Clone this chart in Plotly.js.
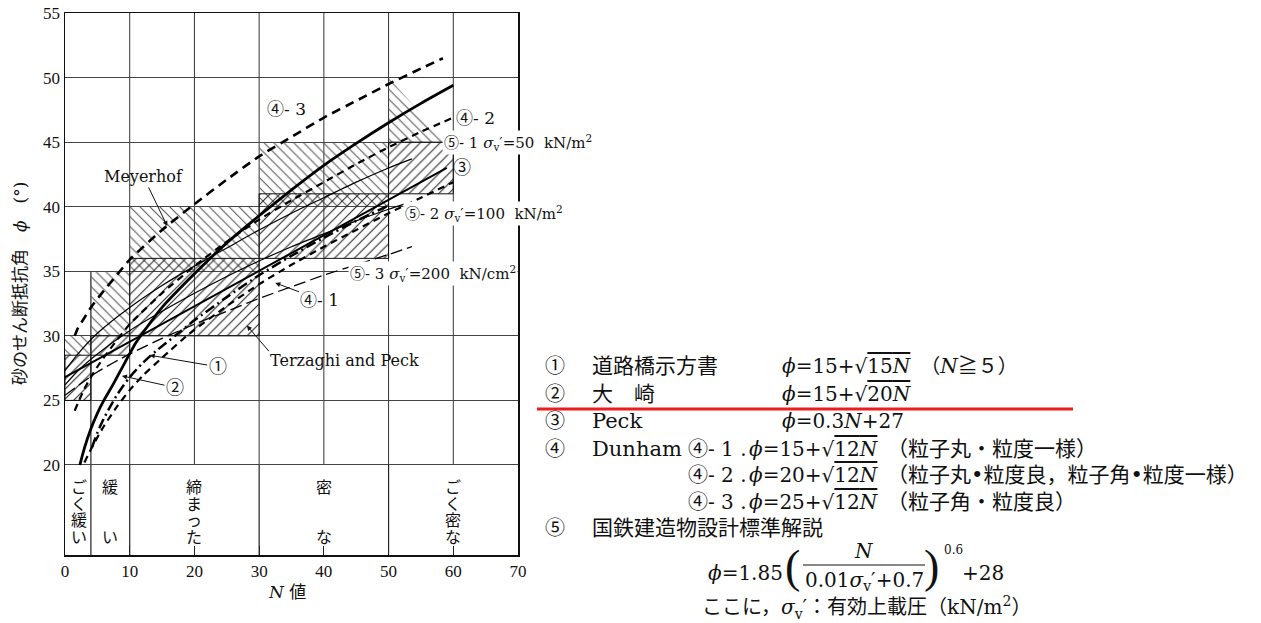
<!DOCTYPE html>
<html><head><meta charset="utf-8">
<script src="https://cdn.plot.ly/plotly-3.0.1.min.js"></script>
<style>html,body{margin:0;padding:0;background:#fff;}#chart{width:1261px;height:623px;}</style>
</head><body><div id="chart"></div>
<script>
// ---------------- data ----------------
const xTicks = [0,10,20,30,40,50,60,70];
const yTicks = [20,25,30,35,40,45,50,55];

// ④-3 Dunham  φ=25+√12N
const n43 = [1.5,2,3,4,6,8,10,15,20,25,30,35,40,45,50,55,58.4];
const p43 = [30.0,30.6,31.4,32.2,33.5,34.7,35.9,38.2,40.2,42.1,43.9,45.4,46.9,48.2,49.5,50.7,51.5];
// ④-2 Dunham  φ=20+√12N
const n42 = [1.5,2,3,4,5,7,10,15,20,25,30,35,40,45,50,55,60];
const p42 = [24.2,24.8,25.9,26.8,27.6,29.0,30.9,33.3,35.4,37.3,39.0,40.5,41.9,43.3,44.6,45.8,46.9];
// ② 大崎
const n2 = [2.3,3,4,5,6,7.5,9,11,13,15,20,25,30,35,40,45,50,55,60];
const p2 = [20.0,21.3,22.8,24.0,25.0,26.3,27.7,29.5,30.9,32.2,34.8,37.2,39.3,41.3,43.2,44.9,46.5,48.0,49.4];
// ① 道路橋示方書
const n1 = [4.2,5,6,8,10,12,14,17,20,25,30,35,40,45,50];
const p1 = [21.4,22.5,23.6,25.4,26.8,27.9,28.8,30.0,31.2,33.0,34.7,36.2,37.6,38.9,40.1];
// ④-1 Dunham  φ=15+√12N
const n41 = [3,4.3,6,8,10,12,15,19.3,25,30,35,40,45,50,55,60];
const p41 = [20.2,21.5,23.0,24.5,25.8,26.9,28.3,30.2,32.3,34.0,35.5,36.9,38.2,39.5,40.7,41.9];
// ③ Peck
const n3 = [0,59];
const p3 = [26.8,43.0];
// ⑤-1, ⑤-2, ⑤-3 国鉄
const n51 = [0,2,5,10,15,20,25,30,35,40,45,50,53.6];
const p51 = [27.3,28.6,30.2,32.2,33.9,35.4,36.8,38.2,39.5,40.7,41.9,43.0,43.7];
const n52 = [0,2,5,10,15,20,25,30,35,40,45,50,53];
const p52 = [26.2,27.3,28.6,30.4,31.9,33.3,34.6,35.8,36.9,37.9,38.9,39.8,40.3];
const n53 = [0,5,10,15,20,25,30,35,40,45,50,53.6];
const p53 = [25.4,27.2,28.6,29.8,30.9,31.9,32.9,33.8,34.7,35.5,36.3,36.9];

// Terzaghi and Peck ranges
const tpX0 = [0,4,10,30,50];
const tpX1 = [4,10,30,50,60];
const tpLo = [25,28.5,30,36,41];
const tpHi = [28.5,30,36,41,45];
// Meyerhof ranges
const myX0 = [0,4,10,30];
const myX1 = [4,10,30,50];
const myLo = [28.5,30,35,40];
const myHi = [30,35,40,45];
const myTriN = [50,50,59,50];
const myTriP = [45,50,45,45];

// density classes
const densBounds = [4,10,30,50];
const densCenters = [2.2,7,20,40,60];
const densLabels = ['ごく緩い','緩　　い','締まった','密　　な','ごく密な'];

// legend texts
const legNums = ['①','②','③','④','⑤'];
const legNames = ['道路橋示方書','大　崎','Peck','Dunham','国鉄建造物設計標準解説'];

// ---------------- geometry helpers (layout only) ----------------
const L=65, R=518, T=13, B=555, W=1261, H=623;
const YMIN = 13.03, YMAX = 55;
const px = p => (p - L)/(R - L);
const py = p => (B - p)/(B - T);

const serif = 'DejaVu Serif, Noto Sans CJK JP, serif';
const cjk = 'Noto Sans CJK JP, sans-serif';
const ov = s => '<span style="text-decoration:overline">' + s + '</span>';

const traces = [];
const boxTrace = (x0,x1,lo,hi,shape,fg,lw) => ({
  x:[x0,x1,x1,x0,x0], y:[lo,lo,hi,hi,lo], mode:'lines', fill:'toself',
  fillcolor:'rgba(0,0,0,0)',
  fillpattern:{shape:shape, fgcolor:fg, bgcolor:'rgba(0,0,0,0)', size:7, solidity:0.15},
  line:{color:'#111', width:lw}, hoverinfo:'skip', showlegend:false
});
for (let i=0;i<myX0.length;i++) traces.push(boxTrace(myX0[i],myX1[i],myLo[i],myHi[i],'\\','#555',0));
traces.push({x:myTriN, y:myTriP, mode:'lines', fill:'toself', fillcolor:'rgba(0,0,0,0)',
  fillpattern:{shape:'\\', fgcolor:'#555', bgcolor:'rgba(0,0,0,0)', size:7, solidity:0.15},
  line:{width:0,color:'rgba(0,0,0,0)'}, hoverinfo:'skip', showlegend:false});
for (let i=0;i<tpX0.length;i++) traces.push(boxTrace(tpX0[i],tpX1[i],tpLo[i],tpHi[i],'/','#222',1));

const curve = (x,y,w,dash) => ({x, y, mode:'lines', line:{color:'#000', width:w, dash, shape:'spline', smoothing:0.6}, hoverinfo:'skip', showlegend:false});
traces.push(curve(n53,p53,1.3,'12px,5px'));
traces.push(curve(n52,p52,1.2,'solid'));
traces.push(curve(n51,p51,1.2,'solid'));
traces.push(curve(n3,p3,2,'solid'));
traces.push(curve(n41,p41,2.2,'7px,5px'));
traces.push(curve(n1,p1,2.5,'10px,4px,2px,4px'));
traces.push(curve(n42,p42,2.2,'7px,5px'));
traces.push(curve(n2,p2,2.8,'solid'));
traces.push(curve(n43,p43,2.6,'9px,6px'));

// shapes
const shapes = [];
for (let v=10; v<=60; v+=10) shapes.push({type:'line', xref:'x', yref:'y', x0:v, x1:v, y0:20, y1:55, line:{color:'#333', width:1}, layer:'below'});
densBounds.forEach(b => shapes.push({type:'line', xref:'x', yref:'y', x0:b, x1:b, y0:YMIN, y1:(b===4?35:20), line:{color:'#222', width:1.2}, layer:'below'}));
shapes.push({type:'line', xref:'paper', yref:'paper', x0:px(537), x1:px(1073), y0:py(409), y1:py(409), line:{color:'#ee1c1c', width:3}});
shapes.push({type:'line', xref:'paper', yref:'paper', x0:px(803), x1:px(925), y0:py(565), y1:py(565), line:{color:'#111', width:1.2}});

// annotations
const ann = [];
const lab = (x,y,text,opt) => ann.push(Object.assign({xref:'x', yref:'y', x, y, text, showarrow:false, xanchor:'center', yanchor:'middle', font:{family:serif, size:15, color:'#111'}}, opt||{}));
const arr = (tx,ty,ax,ay,text,size) => ann.push({xref:'x', yref:'y', x:tx, y:ty, axref:'x', ayref:'y', ax, ay, text, showarrow:true, arrowhead:2, arrowsize:1, arrowwidth:1, arrowcolor:'#111', standoff:0, font:{family:serif, size:size||15, color:'#111'}});

lab(34.3,47.6,'④- 3',{font:{family:serif,size:17,color:'#111'}});
lab(60.1,46.9,'④- 2',{xanchor:'left', font:{family:serif,size:17,color:'#111'}});
lab(58.3,45.0,'⑤- 1 <i>σ</i><sub>v</sub>′=50  kN/m<sup>2</sup>',{xanchor:'left', bgcolor:'#fff'});
lab(61.4,43.05,'③',{font:{family:serif,size:18,color:'#111'}});
lab(52.2,39.5,'⑤- 2 <i>σ</i><sub>v</sub>′=100  kN/m<sup>2</sup>',{xanchor:'left', bgcolor:'#fff'});
lab(43.7,34.8,'⑤- 3 <i>σ</i><sub>v</sub>′=200  kN/cm<sup>2</sup>',{xanchor:'left', bgcolor:'#fff'});
lab(31.4,28.1,'Terzaghi and Peck',{xanchor:'left', font:{family:serif,size:16,color:'#111'}});
arr(28.1,30.8,31.7,28.7,'');
arr(32.5,34.1,39.4,32.8,'④- 1',17);
arr(15.8,38.5,12.1,42.35,'Meyerhof',16);
arr(13.1,28.5,23.6,27.6,'①',18);
arr(8.8,26.9,17.0,26.0,'②',18);

// density band labels (vertical, one glyph per slot)
densLabels.forEach((s,i) => {
  [...s].forEach((ch,j) => {
    if (ch === '　') return;
    ann.push({xref:'x', yref:'paper', x:densCenters[i], y:py(486 + j*16.5), text:ch, showarrow:false, xanchor:'center', yanchor:'middle', font:{family:cjk, size:16, color:'#111'}});
  });
});

// axis titles
ann.push({xref:'paper', yref:'paper', x:px(20), y:py(284), text:'砂のせん断抵抗角　<i>ϕ</i>　(°)', textangle:-90, showarrow:false, xanchor:'center', yanchor:'middle', font:{family:serif, size:17, color:'#111'}});
ann.push({xref:'paper', yref:'paper', x:px(287), y:py(592), text:'<i>N</i> 値', showarrow:false, xanchor:'center', yanchor:'middle', font:{family:serif, size:17, color:'#111'}});

// right-hand legend
const txt = (xp,yp,text,size,opt) => ann.push(Object.assign({xref:'paper', yref:'paper', x:px(xp), y:py(yp), text, showarrow:false, xanchor:'left', yanchor:'middle', font:{family:serif, size:size||20, color:'#111'}}, opt||{}));
const ctr = (xp,yp,text,size,fam) => ann.push({xref:'paper', yref:'paper', x:px(xp), y:py(yp), text, showarrow:false, xanchor:'center', yanchor:'middle', font:{family:fam||serif, size, color:'#111'}});
const rowsY = [366,394,421,449,528];
legNums.forEach((t,i) => txt(543, rowsY[i], t, 20));
legNames.forEach((t,i) => txt(590, rowsY[i], t, 21));
txt(780,366,'<i>ϕ</i>=15+√' + ov('15<i>N</i>') + '　（<i>N</i>≧５）',20);
txt(780,394,'<i>ϕ</i>=15+√' + ov('20<i>N</i>'),20);
txt(780,421,'<i>ϕ</i>=0.3<i>N</i>+27',20);
txt(686,449,'④- 1 .',20); txt(747,449,'<i>ϕ</i>=15+√' + ov('12<i>N</i>'),20); txt(885,449,'（粒子丸・粒度一様）',21);
txt(686,475,'④- 2 .',20); txt(747,475,'<i>ϕ</i>=20+√' + ov('12<i>N</i>'),20); txt(885,475,'（粒子丸•粒度良，粒子角•粒度一様）',21);
txt(686,502,'④- 3 .',20); txt(747,502,'<i>ϕ</i>=25+√' + ov('12<i>N</i>'),20); txt(885,502,'（粒子角・粒度良）',21);
txt(706,573,'<i>ϕ</i>=1.85',20);
ctr(792,566,'(',46,'Liberation Serif');
ctr(864,551,'<i>N</i>',20);
ctr(864,581,'0.01<i>σ</i><sub>v</sub>′+0.7',20);
ctr(931,566,')',46,'Liberation Serif');
txt(942,550,'0.6',12);
txt(960,573,'+28',20);
txt(700,607,'ここに，<i>σ</i><sub>v</sub>′：有効上載圧（kN/m<sup>2</sup>）',20);

const tickFont = {family:'Liberation Serif, serif', size:17, color:'#111'};
const layout = {
  width:W, height:H, margin:{l:L, r:W-R, t:T, b:H-B, pad:0},
  paper_bgcolor:'#fff', plot_bgcolor:'#fff', showlegend:false,
  xaxis:{range:[0,70], tickvals:xTicks, ticks:'inside', ticklen:9, tickcolor:'#222', tickwidth:1,
    showgrid:false, zeroline:false, showline:true, mirror:true, linecolor:'#111', linewidth:1.5, tickfont:tickFont, fixedrange:true},
  yaxis:{range:[YMIN,YMAX], tickvals:yTicks, ticks:'', showgrid:true, gridcolor:'#444', gridwidth:1,
    zeroline:false, showline:true, mirror:true, linecolor:'#111', linewidth:1.5, tickfont:tickFont, fixedrange:true},
  shapes, annotations:ann
};
Plotly.newPlot('chart', traces, layout, {displayModeBar:false, staticPlot:true});
</script></body></html>
